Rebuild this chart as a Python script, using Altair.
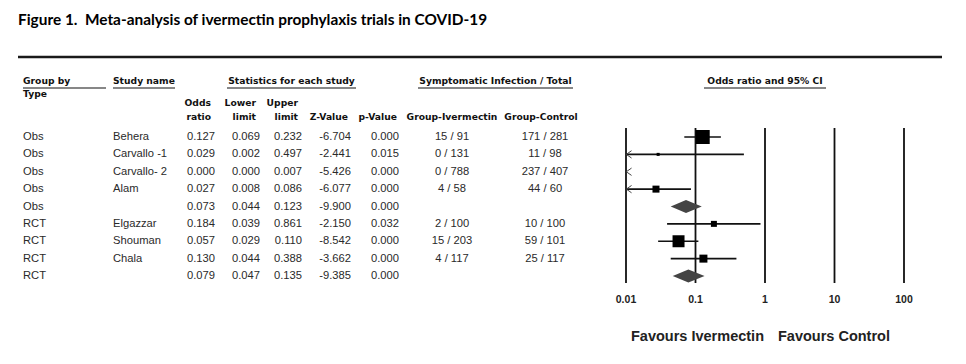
import altair as alt
import pandas as pd

# ---------------- data ----------------
title_text = "Figure 1.\u00a0\u00a0Meta-analysis of ivermectin prophylaxis trials in COVID-19"
group_type = ["Obs", "Obs", "Obs", "Obs", "Obs", "RCT", "RCT", "RCT", "RCT"]
study = ["Behera", "Carvallo -1", "Carvallo- 2", "Alam", "", "Elgazzar", "Shouman", "Chala", ""]
odds_ratio = [0.127, 0.029, 0.000, 0.027, 0.073, 0.184, 0.057, 0.130, 0.079]
lower = [0.069, 0.002, 0.000, 0.008, 0.044, 0.039, 0.029, 0.044, 0.047]
upper = [0.232, 0.497, 0.007, 0.086, 0.123, 0.861, 0.110, 0.388, 0.135]
z_value = [-6.704, -2.441, -5.426, -6.077, -9.900, -2.150, -8.542, -3.662, -9.385]
p_value = [0.000, 0.015, 0.000, 0.000, 0.000, 0.032, 0.000, 0.000, 0.000]
ivermectin = ["15 / 91", "0 / 131", "0 / 788", "4 / 58", "", "2 / 100", "15 / 203", "4 / 117", ""]
control = ["171 / 281", "11 / 98", "237 / 407", "44 / 60", "", "10 / 100", "59 / 101", "25 / 117", ""]
weight = [30, 1.4, 0.3, 7.5, 0, 5.5, 22, 9.8, 0]
pooled = [False, False, False, False, True, False, False, False, True]

ticks = [0.01, 0.1, 1, 10, 100]
tick_labels = ["0.01", "0.1", "1", "10", "100"]
favours = ["Favours Ivermectin", "Favours Control"]
group_headers = ["Group by", "Study name", "Statistics for each study",
                 "Symptomatic Infection / Total", "Odds ratio and 95% CI"]

# ---------------- tables ----------------
rows = pd.DataFrame({
    "row": list(range(len(study))),
    "type": group_type,
    "study": study,
    "or": odds_ratio,
    "lower": lower,
    "upper": upper,
    "weight": weight,
    "pooled": pooled,
    "or_s": [f"{v:.3f}" for v in odds_ratio],
    "lo_s": [f"{v:.3f}" for v in lower],
    "up_s": [f"{v:.3f}" for v in upper],
    "z_s": [f"{v:.3f}" for v in z_value],
    "p_s": [f"{v:.3f}" for v in p_value],
    "ivm": ivermectin,
    "ctl": control,
})

H = 0.37
dia = []
for i, p in enumerate(pooled):
    if p:
        dia += [dict(g=i, x=lower[i], y0=i, y1=i),
                dict(g=i, x=odds_ratio[i], y0=i - H, y1=i + H),
                dict(g=i, x=upper[i], y0=i, y1=i)]
dia = pd.DataFrame(dia)

tick_df = pd.DataFrame({"tick": ticks, "lab": tick_labels})

# ---------------- layout helpers ----------------
OFF = 8
def px(v):
    return v - OFF

BODY = "#2a2a2a"
HEAD = "#111111"
BODY_FONT = "Liberation Sans"
HEAD_FONT = "DejaVu Sans"

yscale = alt.Scale(domain=[0, 8], range=[px(137), px(276)])
xscale = alt.Scale(type="log", domain=[0.01, 100], range=[px(626), px(904)])
Y = alt.Y("row:Q", scale=yscale, axis=None)


def col_text(field, xpos, align):
    return alt.Chart(rows).mark_text(
        align=align, baseline="middle", font=BODY_FONT, fontSize=11.2, color=BODY
    ).encode(x=alt.value(px(xpos)), y=Y, text=alt.Text(f"{field}:N"))


def label(txt, x, y, align="left", size=9.2, font=HEAD_FONT, weight="bold",
          color=HEAD, baseline="middle"):
    return alt.Chart(pd.DataFrame({"t": [txt]})).mark_text(
        align=align, baseline=baseline, font=font, fontSize=size,
        fontWeight=weight, color=color
    ).encode(x=alt.value(px(x)), y=alt.value(px(y)), text="t:N")


def hline(x0, x1, y, w=1.0, color=HEAD):
    return alt.Chart(pd.DataFrame({"a": [0]})).mark_rule(
        strokeWidth=w, color=color
    ).encode(x=alt.value(px(x0)), x2=alt.value(px(x1)), y=alt.value(px(y)))


layers = []

# title and top rule
layers.append(label(title_text, 18, 25, size=15.4, font="Lato", baseline="alphabetic",
                    color="#000000"))
layers.append(hline(18, 942, 57, w=2.6, color="#1a1a1a"))

# group headers + underlines
hdr_pos = [(23, 106, "left", 23), (113, 175, "left", 113), (227, 356, "center", 291.5),
           (418, 573, "center", 495.5), (704, 826, "center", 765)]
for txt, (x0, x1, al, tx) in zip(group_headers, hdr_pos):
    layers.append(label(txt, tx, 81, align=al))
    layers.append(hline(x0, x1, 88, w=1.1))
layers.append(label("Type", 23, 94))

# column headers
layers.append(label("Odds", 211, 103, align="right"))
layers.append(label("ratio", 211, 117, align="right"))
layers.append(label("Lower", 256, 103, align="right"))
layers.append(label("limit", 256, 117, align="right"))
layers.append(label("Upper", 298, 103, align="right"))
layers.append(label("limit", 298, 117, align="right"))
layers.append(label("Z-Value", 348, 117, align="right"))
layers.append(label("p-Value", 397, 117, align="right"))
layers.append(label("Group-Ivermectin", 452, 117, align="center"))
layers.append(label("Group-Control", 541, 117, align="center"))

# table body
layers.append(col_text("type", 23, "left"))
layers.append(col_text("study", 113, "left"))
layers.append(col_text("or_s", 215, "right"))
layers.append(col_text("lo_s", 260, "right"))
layers.append(col_text("up_s", 302, "right"))
layers.append(col_text("z_s", 351, "right"))
layers.append(col_text("p_s", 399, "right"))
layers.append(col_text("ivm", 452, "center"))
layers.append(col_text("ctl", 545, "center"))

# forest plot: reference lines
layers.append(alt.Chart(tick_df).mark_rule(strokeWidth=1.8, color="#111").encode(
    x=alt.X("tick:Q", scale=xscale, axis=None),
    y=alt.value(px(128)), y2=alt.value(px(283))))
layers.append(alt.Chart(tick_df).mark_text(
    font=BODY_FONT, fontSize=10.5, fontWeight="bold", color="#222", baseline="middle"
).encode(x=alt.X("tick:Q", scale=xscale, axis=None), y=alt.value(px(300)), text="lab:N"))

# confidence intervals
layers.append(alt.Chart(rows).transform_filter(
    "!datum.pooled && datum.upper >= 0.01"
).transform_calculate(lo="max(datum.lower, 0.01)").mark_rule(
    strokeWidth=1.6, color="#111"
).encode(x=alt.X("lo:Q", scale=xscale, axis=None), x2="upper:Q", y=Y))

# arrows for intervals extending below 0.01
layers.append(alt.Chart(rows).transform_filter(
    "!datum.pooled && datum.lower < 0.01"
).transform_calculate(edge="0.0101").mark_point(
    shape="M1,-0.7L0,0L1,0.7", filled=False, strokeWidth=1, color="#444", size=110, opacity=1
).encode(x=alt.X("edge:Q", scale=xscale, axis=None), y=Y))

# study squares
layers.append(alt.Chart(rows).transform_filter(
    "!datum.pooled && datum.or >= 0.01"
).mark_square(color="#000", opacity=1).encode(
    x=alt.X("or:Q", scale=xscale, axis=None), y=Y,
    size=alt.Size("weight:Q", scale=alt.Scale(domain=[0, 30], range=[0, 196]), legend=None)))

# pooled diamonds
layers.append(alt.Chart(dia).mark_area(color="#444", opacity=1).encode(
    x=alt.X("x:Q", scale=xscale, axis=None),
    y=alt.Y("y0:Q", scale=yscale, axis=None, stack=None),
    y2="y1:Q", detail="g:N"))

# favours labels
fav_df = pd.DataFrame({"x": [1, 1], "t": favours})
layers.append(alt.Chart(fav_df.iloc[[0]]).mark_text(
    align="right", baseline="middle", font=BODY_FONT, fontSize=14.5, fontWeight="bold",
    color="#222", dx=-1
).encode(x=alt.X("x:Q", scale=xscale, axis=None), y=alt.value(px(337)), text="t:N"))
layers.append(alt.Chart(fav_df.iloc[[1]]).mark_text(
    align="left", baseline="middle", font=BODY_FONT, fontSize=14.5, fontWeight="bold",
    color="#222", dx=13
).encode(x=alt.X("x:Q", scale=xscale, axis=None), y=alt.value(px(337)), text="t:N"))

chart = alt.layer(*layers).properties(
    width=950, height=348, padding=0, autosize=alt.AutoSizeParams(type="none"),
    background="white"
).configure_view(stroke=None)

chart.save("out.html", embed_options={"renderer": "svg", "actions": False})
